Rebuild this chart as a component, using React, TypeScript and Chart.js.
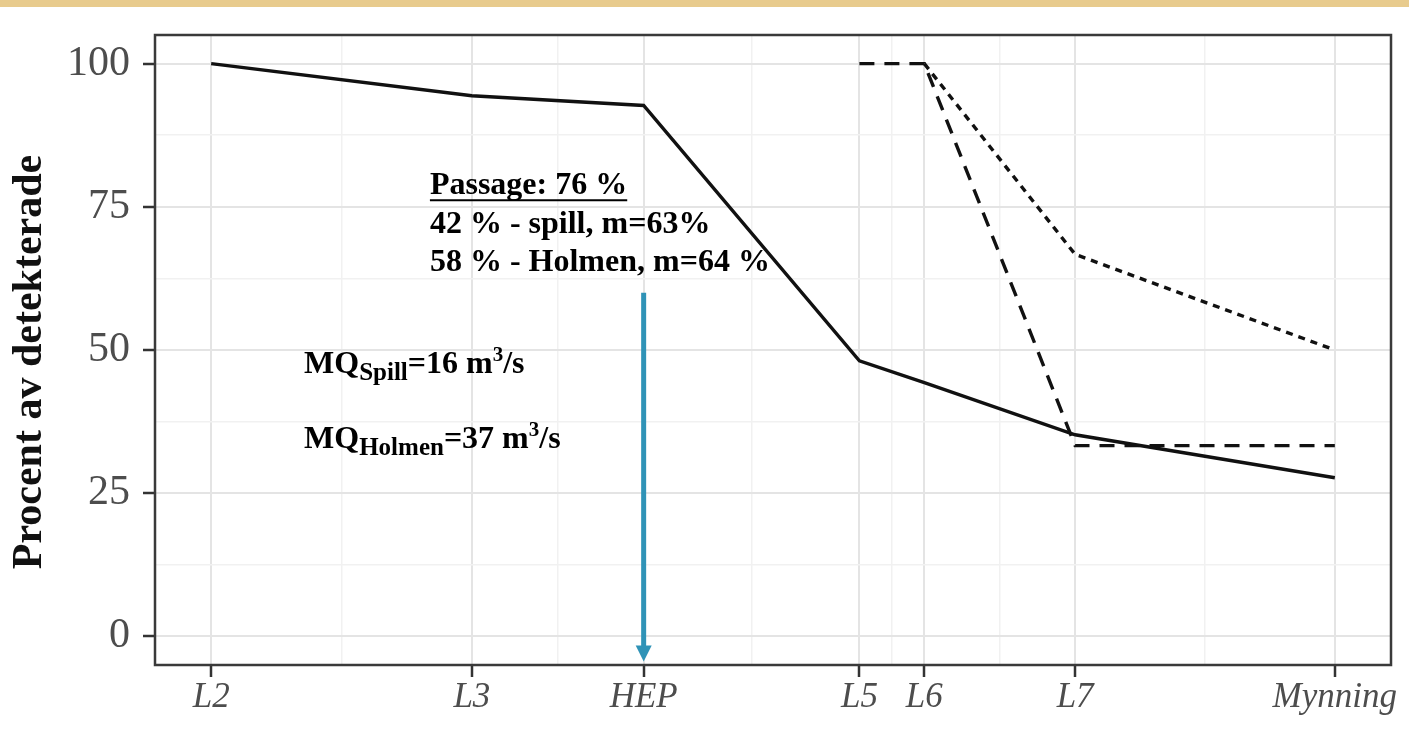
import React, { useEffect, useRef } from 'react';
import { Chart, registerables } from 'chart.js';

Chart.register(...registerables);

// ---- data ----
const stations = ['L2', 'L3', 'HEP', 'L5', 'L6', 'L7', 'Mynning'];
const stationPos = [0, 26.1, 43.3, 64.9, 71.4, 86.5, 112.5];
const solidSeries: (number | null)[] = [100, 94.4, 92.7, 48.1, 44.3, 35.2, 27.7];
const dashedSeries: (number | null)[] = [null, null, null, 100, 100, 33.3, 33.3];
const dottedSeries: (number | null)[] = [null, null, null, null, 100, 66.7, 50];
const yTickValues = [0, 25, 50, 75, 100];
const yTitle = 'Procent av detekterade';

const passageLines = ['Passage: 76 %', '42 % - spill, m=63%', '58 % - Holmen, m=64 %'];
const mqSpill = { sub: 'Spill', value: '=16 m', sup: '3', unit: '/s' };
const mqHolmen = { sub: 'Holmen', value: '=37 m', sup: '3', unit: '/s' };

// annotation anchors (data coordinates)
const passageAnchor = { x: 21.9, y: 77.2 };
const mqAnchor1 = { x: 9.3, y: 45.9 };
const mqAnchor2 = { x: 9.3, y: 32.9 };
const arrowFrom = { x: 43.3, y: 60 };
const arrowTo = { x: 43.3, y: -4.4 };

const X_MIN = -5.625;
const X_MAX = 118.125;
const Y_MIN = -5;
const Y_MAX = 105;

const toPoints = (vals: (number | null)[]) =>
  vals
    .map((v, i) => (v === null ? null : { x: stationPos[i], y: v }))
    .filter((p) => p !== null) as { x: number; y: number }[];

const xMinor = stationPos.slice(1).map((p, i) => (p + stationPos[i]) / 2);
const yMinor = yTickValues.slice(1).map((v, i) => (v + yTickValues[i]) / 2);

const SERIF = '"Liberation Serif", "Times New Roman", serif';

function drawRuns(
  ctx: CanvasRenderingContext2D,
  x: number,
  y: number,
  runs: { text: string; size: number; dy?: number }[]
) {
  let cx = x;
  for (const r of runs) {
    ctx.font = `bold ${r.size}px ${SERIF}`;
    ctx.fillText(r.text, cx, y + (r.dy || 0));
    cx += ctx.measureText(r.text).width;
  }
  return cx;
}

const decorPlugin = {
  id: 'decor',
  beforeDraw(chart: any) {
    const ctx = chart.ctx as CanvasRenderingContext2D;
    ctx.save();
    ctx.fillStyle = '#ffffff';
    ctx.fillRect(0, 0, chart.width, chart.height);
    ctx.fillStyle = '#E8CB8D';
    ctx.fillRect(0, 0, chart.width, 7);
    ctx.restore();
  },
  afterDraw(chart: any) {
    const ctx = chart.ctx as CanvasRenderingContext2D;
    const a = chart.chartArea;
    ctx.save();
    ctx.translate(30, (a.top + a.bottom) / 2 + 12);
    ctx.rotate(-Math.PI / 2);
    ctx.fillStyle = '#111111';
    ctx.textAlign = 'center';
    ctx.textBaseline = 'middle';
    ctx.font = `bold 42px ${SERIF}`;
    ctx.fillText(yTitle, 0, 0);
    ctx.restore();
  },
  afterDatasetsDraw(chart: any) {
    const ctx = chart.ctx as CanvasRenderingContext2D;
    const xs = chart.scales.x;
    const ys = chart.scales.y;
    const a = chart.chartArea;
    ctx.save();
    // panel border
    ctx.strokeStyle = '#3a3a3a';
    ctx.lineWidth = 2.5;
    ctx.strokeRect(a.left, a.top, a.right - a.left, a.bottom - a.top);

    // arrow
    const ax = xs.getPixelForValue(arrowFrom.x);
    const ay0 = ys.getPixelForValue(arrowFrom.y);
    const ay1 = ys.getPixelForValue(arrowTo.y);
    ctx.strokeStyle = '#2F93B7';
    ctx.fillStyle = '#2F93B7';
    ctx.lineWidth = 5;
    ctx.beginPath();
    ctx.moveTo(ax, ay0);
    ctx.lineTo(ax, ay1 - 12);
    ctx.stroke();
    ctx.beginPath();
    ctx.moveTo(ax - 8, ay1 - 16);
    ctx.lineTo(ax + 8, ay1 - 16);
    ctx.lineTo(ax, ay1);
    ctx.closePath();
    ctx.fill();

    // passage text
    ctx.fillStyle = '#000000';
    ctx.textBaseline = 'alphabetic';
    ctx.textAlign = 'left';
    const px = xs.getPixelForValue(passageAnchor.x);
    const py = ys.getPixelForValue(passageAnchor.y);
    passageLines.forEach((line, i) => {
      const end = drawRuns(ctx, px, py + i * 38.5, [{ text: line, size: 32 }]);
      if (i === 0) {
        ctx.strokeStyle = '#000000';
        ctx.lineWidth = 2;
        ctx.beginPath();
        ctx.moveTo(px, py + 6);
        ctx.lineTo(end, py + 6);
        ctx.stroke();
      }
    });

    // MQ texts
    const mq = [
      { anchor: mqAnchor1, d: mqSpill },
      { anchor: mqAnchor2, d: mqHolmen },
    ];
    mq.forEach(({ anchor, d }) => {
      const mx = xs.getPixelForValue(anchor.x);
      const my = ys.getPixelForValue(anchor.y);
      drawRuns(ctx, mx, my, [
        { text: 'MQ', size: 32 },
        { text: d.sub, size: 25, dy: 7 },
        { text: d.value, size: 32 },
        { text: d.sup, size: 21, dy: -12 },
        { text: d.unit, size: 32 },
      ]);
    });
    ctx.restore();
  },
};

export default function App() {
  const ref = useRef<HTMLCanvasElement | null>(null);
  useEffect(() => {
    if (!ref.current) return;
    const gridOpts = {
      drawOnChartArea: true,
      drawTicks: true,
      tickLength: 12,
      color: (c: any) => (c.tick && c.tick.minor ? '#F1F1F1' : '#E4E4E4'),
      lineWidth: (c: any) => (c.tick && c.tick.minor ? 1.5 : 2),
      tickColor: (c: any) => (c.tick && c.tick.minor ? 'rgba(0,0,0,0)' : '#333333'),
      tickWidth: 2.5,
    };
    const chart = new Chart(ref.current, {
      type: 'line',
      data: {
        datasets: [
          {
            label: 'total',
            data: toPoints(solidSeries),
            borderColor: '#111111',
            borderWidth: 3.4,
            pointRadius: 0,
            fill: false,
            tension: 0,
          },
          {
            label: 'dashed',
            data: toPoints(dashedSeries),
            borderColor: '#111111',
            borderWidth: 3.4,
            borderDash: [15, 10],
            pointRadius: 0,
            fill: false,
            tension: 0,
          },
          {
            label: 'dotted',
            data: toPoints(dottedSeries),
            borderColor: '#111111',
            borderWidth: 3.4,
            borderDash: [7, 6],
            pointRadius: 0,
            fill: false,
            tension: 0,
          },
        ],
      },
      options: {
        responsive: false,
        animation: false,
        layout: { padding: { top: 35, right: 18, left: 0, bottom: 0 } },
        plugins: {
          legend: { display: false },
          tooltip: { enabled: false },
        },
        scales: {
          x: {
            type: 'linear',
            min: X_MIN,
            max: X_MAX,
            afterBuildTicks: (scale: any) => {
              const t = stationPos.map((v) => ({ value: v, minor: false }));
              const m = xMinor.map((v) => ({ value: v, minor: true }));
              scale.ticks = [...t, ...m].sort((p, q) => p.value - q.value);
            },
            afterFit: (scale: any) => {
              scale.height = 70;
              scale.paddingLeft = 0;
              scale.paddingRight = 0;
              scale.paddingTop = 0;
              scale.paddingBottom = 0;
            },
            border: { display: false },
            grid: gridOpts,
            ticks: {
              autoSkip: false,
              maxRotation: 0,
              minRotation: 0,
              padding: 0,
              color: '#4D4D4D',
              font: { family: SERIF, size: 35, style: 'italic' },
              callback: (value: any) => {
                const idx = stationPos.indexOf(Number(value));
                return idx >= 0 ? stations[idx] : '';
              },
            },
          },
          y: {
            type: 'linear',
            min: Y_MIN,
            max: Y_MAX,
            afterBuildTicks: (scale: any) => {
              const t = yTickValues.map((v) => ({ value: v, minor: false }));
              const m = yMinor.map((v) => ({ value: v, minor: true }));
              scale.ticks = [...t, ...m].sort((p, q) => p.value - q.value);
            },
            afterFit: (scale: any) => {
              scale.width = 155;
              scale.paddingLeft = 0;
              scale.paddingRight = 0;
              scale.paddingTop = 0;
              scale.paddingBottom = 0;
            },
            border: { display: false },
            grid: gridOpts,
            ticks: {
              autoSkip: false,
              padding: 13,
              color: '#4D4D4D',
              font: { family: SERIF, size: 42 },
              callback: (value: any) => {
                const v = Number(value);
                return yTickValues.indexOf(v) >= 0 ? String(v) : '';
              },
            },
          },
        },
      },
      plugins: [decorPlugin],
    } as any);
    return () => chart.destroy();
  }, []);

  return (
    <canvas
      ref={ref}
      width={1409}
      height={735}
      style={{ position: 'absolute', left: 0, top: 0, display: 'block' }}
    />
  );
}
